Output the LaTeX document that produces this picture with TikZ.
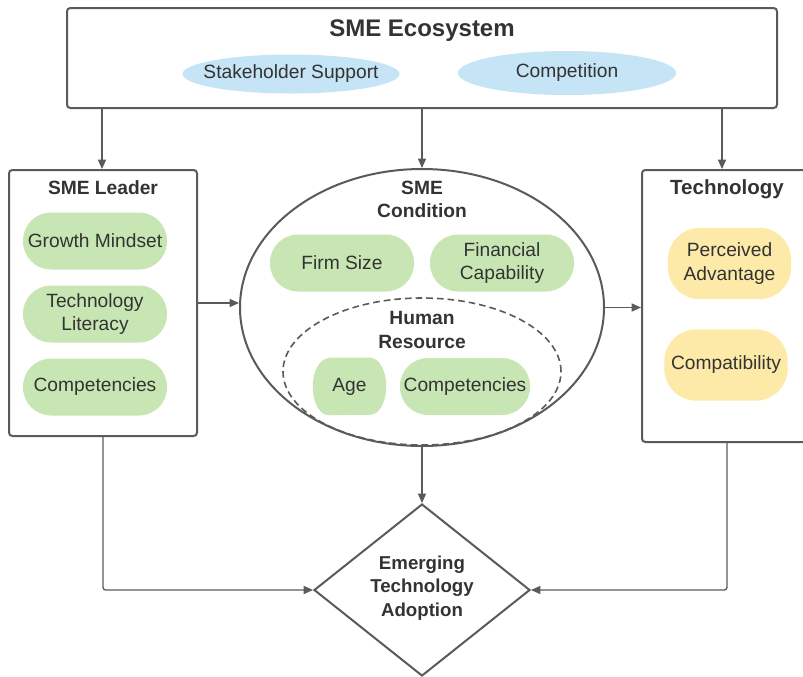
\documentclass[tikz,border=0pt]{standalone}
\usepackage{fontspec}
\setmainfont{Liberation Sans}
\usetikzlibrary{shapes.geometric,arrows.meta,calc}
\definecolor{lc}{HTML}{5A5A5A}
\definecolor{tc}{HTML}{333333}
\definecolor{bluef}{HTML}{C5E4F5}
\definecolor{greenf}{HTML}{C8E6B3}
\definecolor{yellowf}{HTML}{FDEAA8}
\tikzset{
  box/.style={draw=lc,line width=1.5pt,rounded corners=2.5pt,inner sep=0pt},
  title/.style={text=tc,font=\fontsize{14.4}{17.3}\selectfont\bfseries,align=center,inner sep=0pt},
  txt/.style={text=tc,font=\fontsize{14.4}{17.3}\selectfont,align=center,inner sep=0pt},
  bpill/.style={ellipse,fill=bluef,inner sep=0pt},
  gpill/.style={rectangle,fill=greenf,rounded corners=21pt,minimum width=108pt,minimum height=42.75pt,inner sep=0pt},
  ypill/.style={rectangle,fill=yellowf,rounded corners=24pt,minimum width=92.5pt,minimum height=53.5pt,inner sep=0pt},
  arr/.style={draw=lc,line width=1pt,-{Triangle[length=7pt,width=6pt]},rounded corners=2pt},
}
\begin{document}
\begin{tikzpicture}[x=0.75pt,y=-0.75pt]
\useasboundingbox (0,0) rectangle (803,676);
\clip (0,0) rectangle (803,676);
% top box
\node[box,minimum width=532.5pt,minimum height=75pt] (eco) at (422,58) {};
\node[title,font=\fontsize{18}{21}\selectfont\bfseries] (ecot) at (422,30.5) {SME Ecosystem};
\node[bpill,minimum width=162.75pt,minimum height=29.25pt] (stake) at (291,74) {};
\node[txt] at (stake) {Stakeholder Support};
\node[bpill,minimum width=163.5pt,minimum height=33pt] (comp) at (567,73) {};
\node[txt] at (comp) {Competition};
% left box
\node[box,minimum width=141pt,minimum height=199.5pt] (leader) at (103,303) {};
\node[title] (leadert) at (103,188) {SME Leader};
\node[gpill] (grow) at (95,241) {};
\node[txt] at (grow) {Growth Mindset};
\node[gpill] (lit) at (95,314) {};
\node[txt] at (lit) {Technology\\Literacy};
\node[gpill] (lcomp) at (95,387) {};
\node[txt] at (lcomp) {Competencies};
% center ellipse
\node[ellipse,draw=lc,line width=1.5pt,minimum width=273pt,minimum height=207.75pt,inner sep=0pt] (cond) at (422,307.5) {};
\node[title] (condt) at (422,199) {SME\\Condition};
\node[gpill] (firm) at (342,263) {};
\node[txt] at (firm) {Firm Size};
\node[gpill] (fin) at (502,263) {};
\node[txt] at (fin) {Financial\\Capability};
\node[ellipse,draw=lc,line width=1.2pt,dashed,dash pattern=on 5pt off 3pt,minimum width=208.5pt,minimum height=110.25pt,inner sep=0pt] (hr) at (422,371.5) {};
\node[title] (hrt) at (422,330) {Human\\Resource};
\node[minimum width=54.75pt,minimum height=42.75pt,inner sep=0pt] (age) at (349.5,386.5) {};
\fill[greenf] ([xshift=12pt]age.north west) -- ([xshift=-12pt]age.north east)
  arc[start angle=90,end angle=-90,x radius=12pt,y radius=21.375pt]
  -- ([xshift=12pt]age.south west)
  arc[start angle=270,end angle=90,x radius=12pt,y radius=21.375pt] -- cycle;
\node[txt] at (age) {Age};
\node[gpill,minimum width=97.5pt] (hcomp) at (465,386.5) {};
\node[txt] at (hcomp) {Competencies};
% right box
\node[box,minimum width=127.5pt,minimum height=204pt] (tech) at (727,306) {};
\node[title,font=\fontsize{15.4}{18}\selectfont\bfseries] (techt) at (727,189) {Technology};
\node[ypill] (adv) at (729.5,263.5) {};
\node[txt] at (adv) {Perceived\\Advantage};
\node[ypill] (compat) at (726,365) {};
\node[txt] at (compat) {Compatibility};
% diamond
\node[diamond,draw=lc,line width=1.5pt,minimum width=162pt,minimum height=129pt,inner sep=0pt] (adopt) at (422,590) {};
\node[title,font=\fontsize{14}{17.4}\selectfont\bfseries] at (422,588) {Emerging\\Technology\\Adoption};
% connectors
\coordinate (e1) at (102,108);
\coordinate (e3) at (722,108);
\draw[arr] (e1) -- (e1 |- leader.north);
\draw[arr] (eco.south) -- (cond.north);
\draw[arr] (e3) -- (e3 |- tech.north);
\draw[arr] (leader.east) -- (leader.east -| cond.west);
\draw[arr] (cond.east) -- (cond.east -| tech.west);
\draw[arr] (cond.south) -- (adopt.north);
\draw[arr] (leader.south) |- (adopt.west);
\draw[arr] (tech.south) |- (adopt.east);
\end{tikzpicture}
\end{document}
